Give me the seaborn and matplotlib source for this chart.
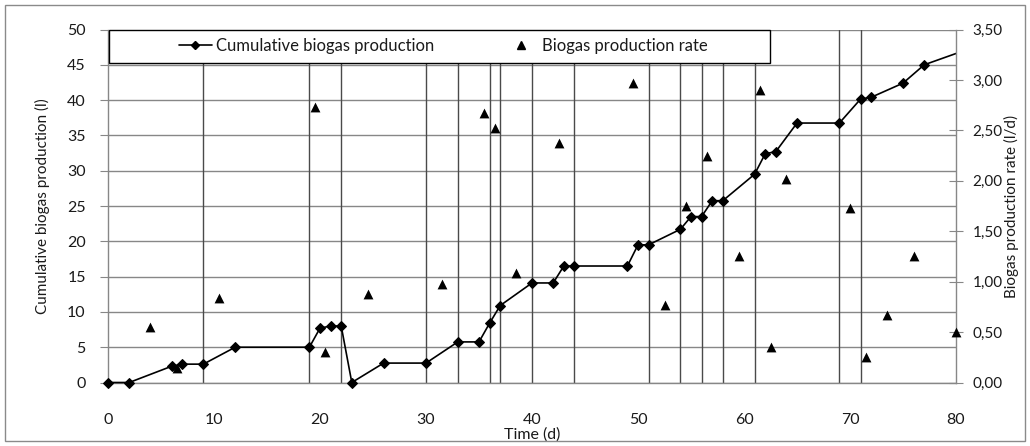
import numpy as np
import pandas as pd
import seaborn as sns
import matplotlib.pyplot as plt
from matplotlib.lines import Line2D
from matplotlib.patches import Rectangle
from matplotlib.ticker import FuncFormatter, MultipleLocator

# cumulative biogas production (l)
days_cum = [0, 2, 6, 7, 9, 12, 19, 20, 21, 22, 23, 26, 30, 33, 35, 36, 37, 40, 42, 43,
            44, 49, 50, 51, 54, 55, 56, 57, 58, 61, 62, 63, 65, 69, 71, 72, 75, 77, 80]
cum_prod = [0, 0, 2.3, 2.6, 2.6, 5.0, 5.0, 7.7, 8.0, 8.0, 0, 2.75, 2.75, 5.75, 5.75, 8.4, 10.9, 14.1, 14.1, 16.5,
            16.5, 16.5, 19.5, 19.5, 21.7, 23.5, 23.5, 25.75, 25.75, 29.5, 32.4, 32.7, 36.75, 36.75, 40.15, 40.4, 42.4, 45.0, 46.6]

# biogas production rate (l/d)
days_rate = [4, 6.5, 10.5, 19.5, 20.5, 24.5, 31.5, 35.5, 36.5, 38.5, 42.5, 49.5,
             52.5, 54.5, 56.5, 59.5, 61.5, 62.5, 64, 70, 71.5, 73.5, 76, 80]
rate = [0.55, 0.14, 0.84, 2.73, 0.30, 0.88, 0.98, 2.67, 2.52, 1.085, 2.37, 2.97,
        0.765, 1.75, 2.25, 1.25, 2.90, 0.35, 2.02, 1.73, 0.25, 0.67, 1.25, 0.50]

# vertical marker lines
event_days = [9, 19, 22, 30, 33, 36, 37, 40, 44, 51, 54, 56, 58, 61, 69, 71]

df_cum = pd.DataFrame({"day": days_cum, "cum": cum_prod})
df_rate = pd.DataFrame({"day": days_rate, "rate": rate})

sns.set_style("white")
plt.rcParams['font.family'] = ['Lato', 'DejaVu Sans']

grid_col = "#878787"
txt_col = "#1a1a1a"

fig = plt.figure(figsize=(10.3, 4.46), dpi=100)
ax = fig.add_axes([108/1030, 1 - 382.5/446, 848/1030, 353/446])
ax2 = ax.twinx()

for d in event_days:
    ax.axvline(d, color="#4a4a4a", lw=1.0, zorder=1)

# the last reading runs off the edge, so no marker on it
sns.lineplot(data=df_cum, x="day", y="cum", ax=ax, color="black", lw=1.2,
             marker="D", markersize=5, markeredgecolor="black",
             markevery=list(range(len(days_cum) - 1)),
             sort=False, estimator=None, zorder=3, clip_on=False)

sns.scatterplot(data=df_rate, x="day", y="rate", ax=ax2, color="black",
                marker="^", s=50, edgecolor="black", linewidth=0, zorder=3,
                clip_on=False)

ax.set_xlim(0, 80)
ax.set_ylim(0, 50)
ax2.set_ylim(0, 3.5)
ax.xaxis.set_major_locator(MultipleLocator(10))
ax.yaxis.set_major_locator(MultipleLocator(5))
ax2.yaxis.set_major_locator(MultipleLocator(0.5))
ax2.yaxis.set_major_formatter(FuncFormatter(lambda v, p: f"{v:.2f}".replace(".", ",")))

ax.yaxis.grid(True, color=grid_col, lw=1.0)
ax.set_axisbelow(True)

for a in (ax, ax2):
    for s in a.spines.values():
        s.set_visible(False)
ax.spines["left"].set_visible(True)
ax.spines["bottom"].set_visible(True)
ax2.spines["right"].set_visible(True)
for s in (ax.spines["left"], ax.spines["bottom"], ax2.spines["right"]):
    s.set_color(grid_col)
    s.set_linewidth(1.0)

ax.tick_params(axis="x", direction="out", length=5, color=grid_col, labelsize=11.5,
               labelcolor=txt_col, pad=17)
ax.tick_params(axis="y", direction="out", length=6, color=grid_col, labelsize=11.5,
               labelcolor=txt_col, pad=10)
ax2.tick_params(axis="y", direction="inout", length=10, color=grid_col, labelsize=11,
                labelcolor=txt_col, pad=7)

ax.set_xlabel("Time (d)", fontsize=11.5, color=txt_col, labelpad=0)
ax.set_ylabel("Cumulative biogas production (l)", fontsize=11, color=txt_col, labelpad=12)
ax2.set_ylabel("Biogas production rate (l/d)", fontsize=11, color=txt_col, labelpad=1)

# legend box across the top
ax2.add_patch(Rectangle((1/848, 0.906), 661/848, 0.094, transform=ax2.transAxes,
                        facecolor="white", edgecolor="black", lw=1.0, zorder=5,
                        clip_on=False))
handles = [Line2D([], [], color="black", lw=1.2, marker="D", markersize=4),
           Line2D([], [], color="none", marker="^", markersize=6,
                  markerfacecolor="black", markeredgecolor="black")]
leg = ax2.legend(handles, ["Cumulative biogas production", "Biogas production rate"],
                 loc="center", bbox_to_anchor=((443 - 108)/848, 0.953), ncol=2,
                 frameon=False, fontsize=12, handlelength=2, handletextpad=0.25,
                 columnspacing=4.2)
leg.set_zorder(6)
for t in leg.get_texts():
    t.set_color(txt_col)

fig.add_artist(Rectangle((5/1030, 5/446), 1020/1030, 436/446, transform=fig.transFigure,
                         fill=False, edgecolor="#8a8a8a", lw=1.0))

fig.savefig("out.png", dpi=100)
